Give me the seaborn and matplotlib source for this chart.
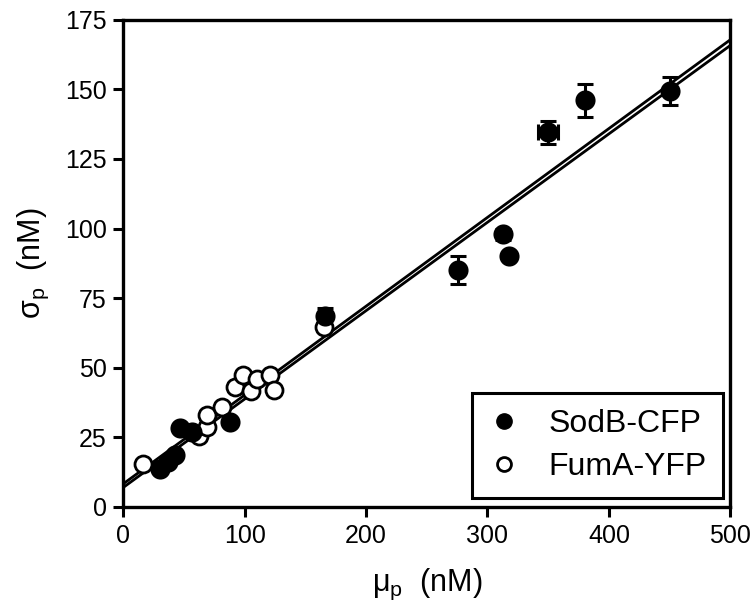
import numpy as np
import pandas as pd
import seaborn as sns
import matplotlib.pyplot as plt

# SodB-CFP (filled) -- mean, noise and error bars
sod_mu = [30, 37, 43, 47, 57, 88, 166, 276, 313, 318, 350, 380, 450]
sod_sigma = [13.5, 16, 18.8, 28.5, 27, 30.5, 68.5, 85, 98, 90, 134.5, 146, 149.5]
sod_yerr = [0, 0, 0, 0, 0, 0, 3, 5, 2, 0, 4, 6, 5]
sod_xerr = [0, 0, 0, 0, 0, 0, 0, 0, 0, 0, 8, 0, 0]

# FumA-YFP (open)
fum_mu = [16, 62, 69, 69, 81, 92, 99, 105, 110, 121, 124, 165]
fum_sigma = [15.5, 25.5, 28.7, 33, 36, 43, 47.5, 41.5, 46, 47.5, 42, 64.5]

# linear fits (intercept, slope)
fit_intercepts = [8.3, 7.0]
fit_slopes = [0.319, 0.3175]

sns.set_style("ticks")
plt.rcParams['font.family'] = ['Liberation Sans', 'DejaVu Sans']
plt.rcParams['mathtext.fontset'] = 'custom'
plt.rcParams['mathtext.rm'] = 'Liberation Sans'
plt.rcParams['mathtext.it'] = 'Liberation Sans'
plt.rcParams['text.color'] = 'black'
plt.rcParams['axes.labelcolor'] = 'black'
plt.rcParams['xtick.color'] = 'black'
plt.rcParams['ytick.color'] = 'black'

fig = plt.figure(figsize=(7.56, 6.16), dpi=100)
ax = fig.add_axes([0.163, 0.177, 0.803, 0.791])

# fit lines
xs = np.array([0, 500])
for b, m in zip(fit_intercepts, fit_slopes):
    sns.lineplot(x=xs, y=b + m * xs, color='black', lw=2.0, ax=ax)

# error bars for SodB
ax.errorbar(sod_mu, sod_sigma, yerr=sod_yerr, xerr=sod_xerr, fmt='none',
            ecolor='black', elinewidth=2.2, capsize=5.5, capthick=2.2, zorder=3)

df = pd.concat([
    pd.DataFrame({'mu': sod_mu, 'sigma': sod_sigma, 'protein': 'SodB-CFP'}),
    pd.DataFrame({'mu': fum_mu, 'sigma': fum_sigma, 'protein': 'FumA-YFP'}),
])
sns.scatterplot(data=df[df.protein == 'FumA-YFP'], x='mu', y='sigma', s=150,
                facecolor='white', edgecolor='black', linewidth=2, ax=ax, zorder=4)
sns.scatterplot(data=df[df.protein == 'SodB-CFP'], x='mu', y='sigma', s=210,
                color='black', edgecolor='black', linewidth=0, ax=ax, zorder=5)

ax.set_xlim(0, 500)
ax.set_ylim(0, 175)
ax.set_xticks(range(0, 501, 100))
ax.set_yticks(range(0, 176, 25))
ax.tick_params(direction='out', length=7, width=2.2, labelsize=18, pad=5)
for sp in ax.spines.values():
    sp.set_linewidth(2.4)
    sp.set_color('black')

ax.set_xlabel(r'$\mathrm{\mu_p}$  (nM)', fontsize=22, labelpad=14)
ax.set_ylabel(r'$\mathrm{\sigma_p}$  (nM)', fontsize=22, labelpad=10)

h1 = plt.Line2D([], [], marker='o', ls='none', color='black', markersize=11)
h2 = plt.Line2D([], [], marker='o', ls='none', markerfacecolor='white',
                markeredgecolor='black', markeredgewidth=2, markersize=10)
leg = ax.legend([h1, h2], ['SodB-CFP', 'FumA-YFP'], loc='lower right',
                fontsize=23, frameon=True, fancybox=False, handletextpad=0.9,
                handlelength=1.0, borderpad=0.5, labelspacing=0.4,
                borderaxespad=0, bbox_to_anchor=(0.988, 0.018))
leg.get_frame().set_edgecolor('black')
leg.get_frame().set_linewidth(2.2)
leg.get_frame().set_alpha(1)

fig.savefig('out.png', dpi=100)
